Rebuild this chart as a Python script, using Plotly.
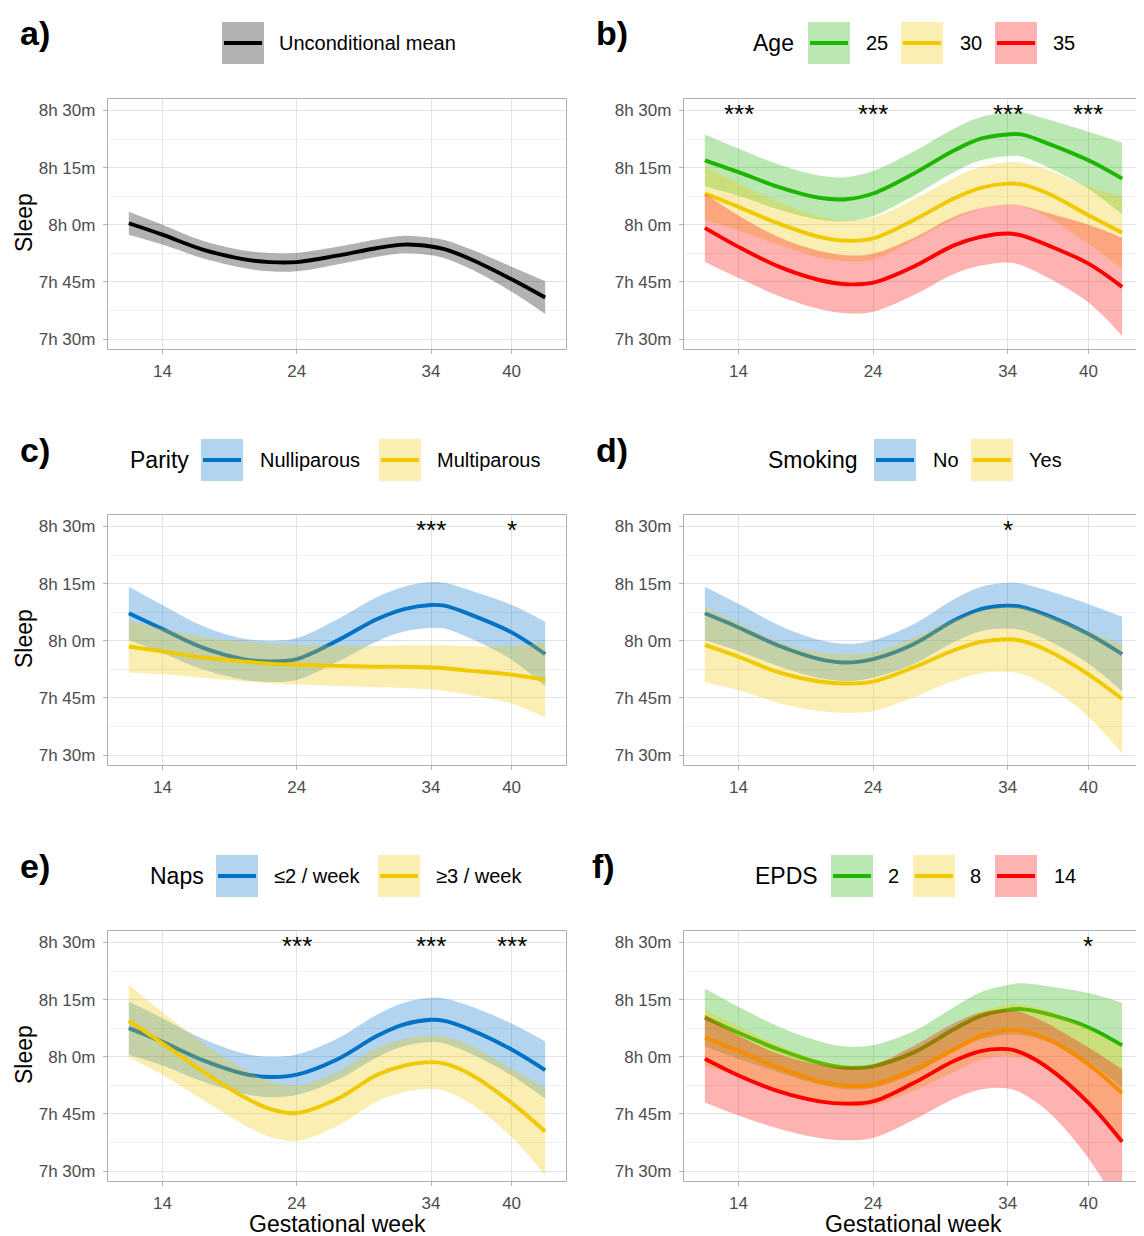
import plotly.graph_objects as go

# page body has an 8px margin: the figure is placed at (8, 8) in the window
OFF = 8
W, H = 1144 - OFF, 1236 - OFF

# ---------------- data (minutes of sleep) ----------------
weeks = [11.5, 14, 17, 20, 22, 24, 27, 30, 32, 34, 35, 37, 40, 42.5]

# a) unconditional mean
uncond_mean = [480.4, 477.4, 473.5, 471.0, 470.2, 470.2, 471.9, 473.9, 474.8, 474.3, 473.6, 470.9, 465.7, 460.9]
uncond_hw = [3.0, 2.6, 2.3, 2.3, 2.4, 2.4, 2.3, 2.3, 2.3, 2.3, 2.4, 2.6, 3.3, 4.3]

# b) Age
age_labels = ["25", "30", "35"]
age25_mean = [496.9, 493.8, 489.9, 487.1, 486.7, 488.2, 493.4, 499.5, 502.6, 503.7, 503.7, 501.3, 496.9, 492.1]
age25_hw = [6.8, 6.2, 5.9, 5.8, 5.8, 5.9, 5.8, 5.7, 5.7, 5.7, 5.8, 6.3, 7.5, 9.4]
age30_mean = [488.2, 484.7, 480.3, 476.8, 475.8, 476.4, 481.2, 486.9, 489.7, 490.8, 490.6, 488.2, 482.5, 477.9]
age30_hw = [7.0, 6.2, 5.6, 5.4, 5.4, 5.5, 5.4, 5.4, 5.5, 5.6, 5.7, 6.2, 7.5, 9.6]
age35_mean = [479.2, 474.2, 469.0, 465.5, 464.4, 464.8, 469.0, 474.6, 476.8, 477.7, 477.2, 474.6, 469.8, 463.7]
age35_hw = [9.0, 8.2, 7.7, 7.6, 7.6, 7.6, 7.5, 7.5, 7.5, 7.6, 7.8, 8.5, 10.2, 12.9]
age_sig_weeks = [14, 24, 34, 40]
age_sig_labels = ["***", "***", "***", "***"]

# c) Parity
parity_labels = ["Nulliparous", "Multiparous"]
nullip_mean = [487.2, 483.1, 478.2, 475.2, 474.6, 475.2, 480.0, 485.7, 488.3, 489.4, 489.2, 486.8, 482.2, 476.5]
nullip_hw = [7.0, 6.3, 5.7, 5.4, 5.4, 5.5, 5.6, 5.8, 5.9, 6.0, 6.0, 6.3, 7.2, 8.5]
multip_mean = [478.5, 477.2, 475.6, 474.6, 474.0, 473.7, 473.4, 473.2, 473.2, 473.0, 472.8, 472.1, 471.1, 469.7]
multip_hw = [6.8, 6.0, 5.4, 5.2, 5.2, 5.2, 5.3, 5.4, 5.6, 5.8, 6.0, 6.4, 7.6, 9.8]
parity_sig_weeks = [34, 40]
parity_sig_labels = ["***", "*"]

# d) Smoking
smoking_labels = ["No", "Yes"]
smoke_no_mean = [487.2, 483.5, 478.7, 475.2, 474.3, 475.2, 479.1, 485.3, 488.3, 489.2, 488.9, 486.6, 481.8, 476.5]
smoke_no_hw = [7.0, 6.2, 5.4, 5.0, 4.9, 4.9, 5.2, 5.6, 5.8, 6.0, 6.1, 6.5, 7.8, 9.8]
smoke_yes_mean = [478.9, 475.8, 471.7, 469.3, 468.8, 469.3, 473.0, 477.5, 479.7, 480.4, 480.0, 477.4, 471.2, 464.7]
smoke_yes_hw = [9.8, 8.8, 8.0, 7.7, 7.7, 7.7, 7.8, 8.0, 8.2, 8.5, 8.7, 9.3, 11.2, 14.2]
smoking_sig_weeks = [34]
smoking_sig_labels = ["*"]

# e) Naps
naps_labels = ["≤2 / week", "≥3 / week"]
naps_low_mean = [487.5, 483.9, 479.1, 475.6, 474.7, 475.3, 479.3, 485.5, 488.5, 489.7, 489.4, 487.0, 481.9, 476.5]
naps_low_hw = [7.0, 6.2, 5.6, 5.3, 5.3, 5.3, 5.4, 5.6, 5.7, 5.8, 5.9, 6.2, 6.8, 7.5]
naps_high_mean = [489.4, 483.5, 476.2, 469.6, 466.3, 465.2, 468.9, 475.3, 477.7, 478.6, 478.2, 475.3, 467.9, 460.4]
naps_high_hw = [9.5, 8.2, 7.5, 7.3, 7.3, 7.3, 7.1, 7.0, 7.0, 7.0, 7.1, 7.6, 9.0, 11.4]
naps_sig_weeks = [24, 34, 40]
naps_sig_labels = ["***", "***", "***"]

# f) EPDS
epds_labels = ["2", "8", "14"]
epds2_mean = [490.3, 486.3, 481.9, 478.4, 477.1, 477.5, 481.1, 487.2, 490.7, 492.3, 492.5, 491.2, 487.7, 483.0]
epds2_hw = [7.6, 6.8, 6.0, 5.7, 5.6, 5.6, 5.6, 5.8, 6.2, 6.5, 6.8, 7.3, 9.0, 11.2]
epds8_mean = [485.0, 481.5, 477.1, 473.6, 472.4, 472.7, 476.5, 481.9, 485.5, 487.0, 486.8, 484.6, 478.0, 470.5]
epds8_hw = [7.4, 6.5, 5.8, 5.5, 5.4, 5.4, 5.5, 5.9, 6.3, 6.8, 7.0, 7.5, 9.5, 12.0]
epds14_mean = [479.5, 475.1, 470.9, 468.3, 467.7, 468.3, 473.1, 478.9, 481.5, 482.0, 481.1, 477.1, 467.9, 457.7]
epds14_hw = [11.5, 10.5, 9.8, 9.6, 9.6, 9.6, 9.7, 9.9, 10.1, 10.3, 10.6, 11.5, 14.5, 19.0]
epds_sig_weeks = [40]
epds_sig_labels = ["*"]

x_ticks = [14, 24, 34, 40]
y_ticks = [450, 465, 480, 495, 510]
y_ticktext = ["7h 30m", "7h 45m", "8h 0m", "8h 15m", "8h 30m"]
y_minor = [457.5, 472.5, 487.5, 502.5]

# ---------------- styles ----------------
GREEN, YELLOW, RED, BLUE, BLACK = "#1DB400", "#F0C800", "#FF0000", "#0072C6", "#000000"


def fill_of(c):
    c = c.lstrip("#")
    r, g, b = int(c[0:2], 16), int(c[2:4], 16), int(c[4:6], 16)
    return f"rgba({r},{g},{b},0.3)"


FONT = "Liberation Sans, Arial, sans-serif"

panels = [
    dict(tag="a)", groups=[(uncond_mean, uncond_hw, BLACK)], sig=([], []),
         legend_title=None, labels=["Unconditional mean"], col=0, row=0,
         title_x=None, keys_x=[222], labels_x=[277]),
    dict(tag="b)", groups=[(age25_mean, age25_hw, GREEN), (age30_mean, age30_hw, YELLOW),
                           (age35_mean, age35_hw, RED)], sig=(age_sig_weeks, age_sig_labels),
         legend_title="Age", labels=age_labels, col=1, row=0,
         title_x=751, keys_x=[808, 901, 995], labels_x=[864, 958, 1051]),
    dict(tag="c)", groups=[(nullip_mean, nullip_hw, BLUE), (multip_mean, multip_hw, YELLOW)],
         sig=(parity_sig_weeks, parity_sig_labels),
         legend_title="Parity", labels=parity_labels, col=0, row=1,
         title_x=128, keys_x=[201, 379], labels_x=[258, 435]),
    dict(tag="d)", groups=[(smoke_no_mean, smoke_no_hw, BLUE), (smoke_yes_mean, smoke_yes_hw, YELLOW)],
         sig=(smoking_sig_weeks, smoking_sig_labels),
         legend_title="Smoking", labels=smoking_labels, col=1, row=1,
         title_x=766, keys_x=[874, 971], labels_x=[931, 1027]),
    dict(tag="e)", groups=[(naps_low_mean, naps_low_hw, BLUE), (naps_high_mean, naps_high_hw, YELLOW)],
         sig=(naps_sig_weeks, naps_sig_labels),
         legend_title="Naps", labels=naps_labels, col=0, row=2,
         title_x=148, keys_x=[216, 378], labels_x=[272, 434]),
    dict(tag="f)", groups=[(epds2_mean, epds2_hw, GREEN), (epds8_mean, epds8_hw, YELLOW),
                           (epds14_mean, epds14_hw, RED)], sig=(epds_sig_weeks, epds_sig_labels),
         legend_title="EPDS", labels=epds_labels, col=1, row=2,
         title_x=753, keys_x=[831, 913, 995], labels_x=[886, 968, 1052]),
]

# positions below are in window pixels
col_px = [(108, 566), (684, 1143)]
row_px = [(99, 349), (515, 765), (931, 1181)]
legend_y_px = [43, 460, 876]
tag_x_px = [18, 594]


def px(x):
    return (x - OFF) / W


def py(y):
    return 1 - (y - OFF) / H


fig = go.Figure()
annotations = []
shapes = []

for i, p in enumerate(panels, start=1):
    xa = "x" if i == 1 else f"x{i}"
    ya = "y" if i == 1 else f"y{i}"
    l, r = col_px[p["col"]]
    t, b = row_px[p["row"]]
    axis_common = dict(
        showgrid=True, gridcolor="#E3E3E3", gridwidth=1, zeroline=False,
        showline=True, linecolor="#B0B0B0", linewidth=1.3, mirror=True,
        ticks="outside", ticklen=4, tickcolor="#B3B3B3", tickwidth=1,
        tickfont=dict(family=FONT, size=17, color="#4D4D4D"),
    )
    fig.layout[f"xaxis{'' if i == 1 else i}"] = dict(
        axis_common, domain=[px(l), min(px(r), 1.0)], range=[9.95, 44.05],
        tickmode="array", tickvals=x_ticks, anchor=ya, ticklabelstandoff=2,
    )
    fig.layout[f"yaxis{'' if i == 1 else i}"] = dict(
        axis_common, domain=[py(b), py(t)], range=[447.4, 513.0],
        tickmode="array", tickvals=y_ticks, ticktext=y_ticktext, anchor=xa,
        minor=dict(tickmode="array", tickvals=y_minor, showgrid=True,
                   gridcolor="#F0F0F0", gridwidth=1, ticks=""),
        ticklabelstandoff=4,
    )

    for mean, hw, color in p["groups"]:
        lower = [m - h for m, h in zip(mean, hw)]
        upper = [m + h for m, h in zip(mean, hw)]
        fig.add_trace(go.Scatter(x=weeks, y=lower, mode="lines", line=dict(width=0, shape="spline"),
                                 xaxis=xa, yaxis=ya, showlegend=False, hoverinfo="skip"))
        fig.add_trace(go.Scatter(x=weeks, y=upper, mode="lines", line=dict(width=0, shape="spline"),
                                 fill="tonexty", fillcolor=fill_of(color),
                                 xaxis=xa, yaxis=ya, showlegend=False, hoverinfo="skip"))
        fig.add_trace(go.Scatter(x=weeks, y=mean, mode="lines",
                                 line=dict(width=3.9, color=color, shape="spline"),
                                 xaxis=xa, yaxis=ya, showlegend=False))

    # significance stars
    for wk, lab in zip(*p["sig"]):
        annotations.append(dict(x=wk, y=510, xref=xa, yref=ya, text=lab, showarrow=False,
                                font=dict(family=FONT, size=26, color="black"),
                                xanchor="center", yanchor="middle", yshift=-4))

    # panel tag
    ly = legend_y_px[p["row"]]
    tx = 590 if p["tag"] == "f)" else tag_x_px[p["col"]]
    annotations.append(dict(x=px(tx), y=py(ly - 10), xref="paper", yref="paper", text=f"<b>{p['tag']}</b>",
                            showarrow=False, xanchor="left", yanchor="middle",
                            font=dict(family=FONT, size=34, color="black")))

    # legend
    if p["legend_title"]:
        annotations.append(dict(x=px(p["title_x"]), y=py(ly), xref="paper", yref="paper",
                                text=p["legend_title"], showarrow=False, xanchor="left", yanchor="middle",
                                font=dict(family=FONT, size=23, color="black")))
    for (mean, hw, color), kx, lab, lx in zip(p["groups"], p["keys_x"], p["labels"], p["labels_x"]):
        shapes.append(dict(type="rect", xref="paper", yref="paper", x0=px(kx), x1=px(kx + 42),
                           y0=py(ly + 21), y1=py(ly - 21), fillcolor=fill_of(color), line=dict(width=0)))
        shapes.append(dict(type="line", xref="paper", yref="paper", x0=px(kx + 2), x1=px(kx + 40),
                           y0=py(ly), y1=py(ly), line=dict(color=color, width=4)))
        annotations.append(dict(x=px(lx), y=py(ly), xref="paper", yref="paper", text=lab,
                                showarrow=False, xanchor="left", yanchor="middle",
                                font=dict(family=FONT, size=20, color="black")))

    # axis titles
    if p["col"] == 0:
        annotations.append(dict(x=px(24), y=py((t + b) / 2 - 1), xref="paper", yref="paper", text="Sleep",
                                textangle=-90, showarrow=False, xanchor="center", yanchor="middle",
                                font=dict(family=FONT, size=23, color="black")))
    if p["row"] == 2:
        annotations.append(dict(x=px((l + r) / 2), y=py(1224), xref="paper", yref="paper",
                                text="Gestational week", showarrow=False, xanchor="center",
                                yanchor="middle", font=dict(family=FONT, size=23, color="black")))

fig.update_layout(
    width=W, height=H, margin=dict(l=0, r=0, t=0, b=0),
    paper_bgcolor="white", plot_bgcolor="white",
    annotations=annotations, shapes=shapes, showlegend=False,
    font=dict(family=FONT),
)

fig.write_html("out.html")
